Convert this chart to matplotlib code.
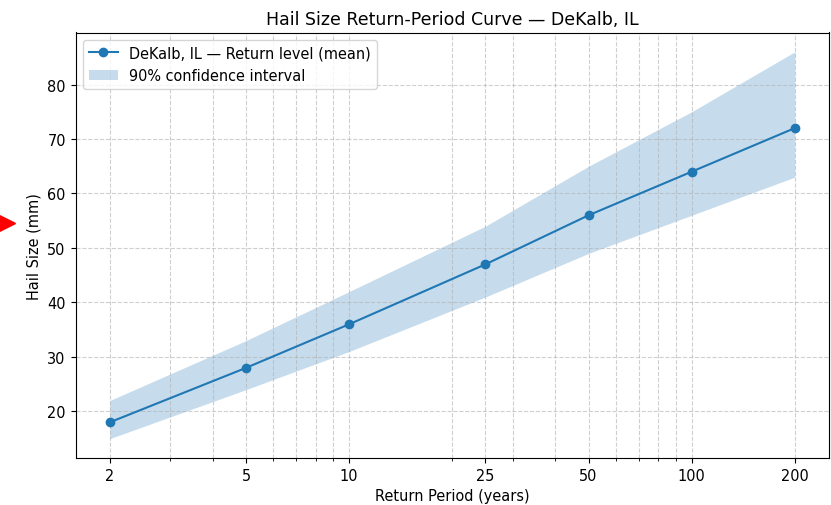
import matplotlib
matplotlib.use("Agg")
import matplotlib.pyplot as plt
from matplotlib.ticker import NullFormatter
from matplotlib.lines import Line2D

plt.rcParams["font.size"] = 10.45

return_periods = [2, 5, 10, 25, 50, 100, 200]
mean_levels = [18, 28, 36, 47, 56, 64, 72]
lower_ci = [15, 24, 31, 41, 49, 56, 63]
upper_ci = [22, 33, 42, 54, 65, 75, 86]
tick_labels = ["2", "5", "10", "25", "50", "100", "200"]

fig = plt.figure(figsize=(8.31, 5.06), dpi=100)
ax = fig.add_axes([75.5/831, 1-459/506, (829-75.5)/831, (459-33.5)/506])

ax.plot(return_periods, mean_levels, marker="o", color="C0",
        label="DeKalb, IL \u2014 Return level (mean)")
ax.fill_between(return_periods, lower_ci, upper_ci, color="C0", alpha=0.25,
                linewidth=0, label="90% confidence interval")
ax.set_xscale("log")
ax.set_xticks(return_periods)
ax.set_xticklabels(tick_labels)
ax.xaxis.set_minor_formatter(NullFormatter())
ax.grid(True, which="both", linestyle="--", alpha=0.6)
ax.set_xlabel("Return Period (years)")
ax.set_ylabel("Hail Size (mm)")
ax.set_title("Hail Size Return-Period Curve \u2014 DeKalb, IL")
ax.legend(loc="upper left")

fig.add_artist(Line2D([6/831], [1-224/506], transform=fig.transFigure,
                      marker=">", markersize=13, color="red", linestyle="none"))

fig.savefig("out.png", dpi=100)
